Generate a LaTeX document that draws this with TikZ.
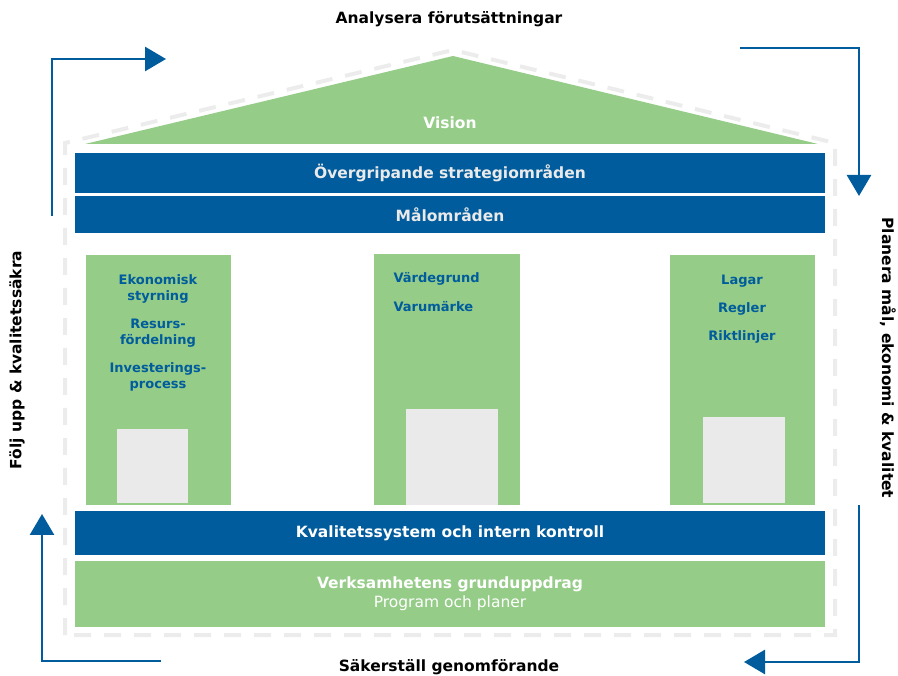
\documentclass[tikz,border=0pt]{standalone}
\usepackage{fontspec}
\setmainfont{DejaVu Sans}
\usetikzlibrary{arrows.meta}
\definecolor{hblue}{RGB}{0,92,156}
\definecolor{hgreen}{RGB}{149,204,136}
\definecolor{hgray}{RGB}{234,234,234}
\definecolor{hdash}{RGB}{236,236,236}

\begin{document}
\begin{tikzpicture}[x=1pt,y=-1pt,
    bar/.style={fill=hblue,minimum width=750,inner sep=0pt,text=hgray,font=\bfseries\fontsize{15.5}{18}\selectfont},
    pillar/.style={fill=hgreen,minimum width=145,minimum height=250,inner sep=0pt},
    brick/.style={fill=hgray,inner sep=0pt},
    ptext/.style={text=hblue,font=\bfseries\fontsize{13}{16.5}\selectfont,align=center},
    label/.style={font=\bfseries\fontsize{15.5}{18}\selectfont},
    cycle/.style={draw=hblue,line width=2.8pt,-{Triangle[length=21pt,width=24pt]}}]
    
    \useasboundingbox (0,0) rectangle (898,676);
    
    % dashed outline of the house
    \draw[hdash,line width=4pt,dash pattern=on 17pt off 13pt] (65,635) -- (65,143) -- (453,50) -- (835,143) -- (835,635) -- cycle;
    
    % roof
    \fill[hgreen] (85,144) -- (453,56) -- (818,144) -- cycle;
    \node[white,label] (vision) at (450,123) {Vision};
    
    \node[bar,minimum height=40] (strat) at (450,173) {Övergripande strategiområden};
    \node[bar,minimum height=37] (mal) at (450,215) {Målområden};
    
    % pillars
    \node[pillar] (p1) at (158.5,380.5) {};
    \node[pillar,minimum width=146,minimum height=251] (p2) at (447,379.5) {};
    \node[pillar] (p3) at (742.5,380.5) {};
    
    \node[brick,minimum width=71,minimum height=74] (b1) at (152.5,466) {};
    \node[brick,minimum width=92,minimum height=96] (b2) at (452,457) {};
    \node[brick,minimum width=82,minimum height=86] (b3) at (744,460) {};
    
    \node[ptext] (t1) at (158,289) {Ekonomisk\\styrning};
    \node[ptext] (t2) at (158,333) {Resurs-\\fördelning};
    \node[ptext] (t3) at (158,377) {Investerings-\\process};
    
    \node[ptext,anchor=west] (t4) at (390,279) {Värdegrund};
    \node[ptext,anchor=west] (t5) at (390,307) {Varumärke};
    
    \node[ptext] (t6) at (742,281) {Lagar};
    \node[ptext] (t7) at (742,309) {Regler};
    \node[ptext] (t8) at (742,337) {Riktlinjer};
    
    % base
    \node[bar,minimum height=43,text=white] (kval) at (450,533) {Kvalitetssystem och intern kontroll};
    \node[bar,fill=hgreen,minimum height=66,text=white,align=center] (grund) at (450,593.5)
        {Verksamhetens grunduppdrag\\[1pt]{\mdseries Program och planer}};
    
    % cycle around the house
    \node[label] (analys) at (449,19) {Analysera förutsättningar};
    \node[label,rotate=-90] (planera) at (888,358) {Planera mål, ekonomi \& kvalitet};
    \node[label] (saker) at (449,667) {Säkerställ genomförande};
    \node[label,rotate=90] (folj) at (17,360) {Följ upp \& kvalitetssäkra};
    
    \coordinate (a1) at (52,216);
    \coordinate (a2) at (166,59);
    \coordinate (b1s) at (740,48);
    \coordinate (b2s) at (859,196);
    \coordinate (c1) at (859,505);
    \coordinate (c2) at (744,662);
    \coordinate (d1) at (161,661);
    \coordinate (d2) at (42,514);
    
    \draw[cycle] (a1) |- (a2);
    \draw[cycle] (b1s) -| (b2s);
    \draw[cycle] (c1) |- (c2);
    \draw[cycle] (d1) -| (d2);
\end{tikzpicture}
\end{document}
